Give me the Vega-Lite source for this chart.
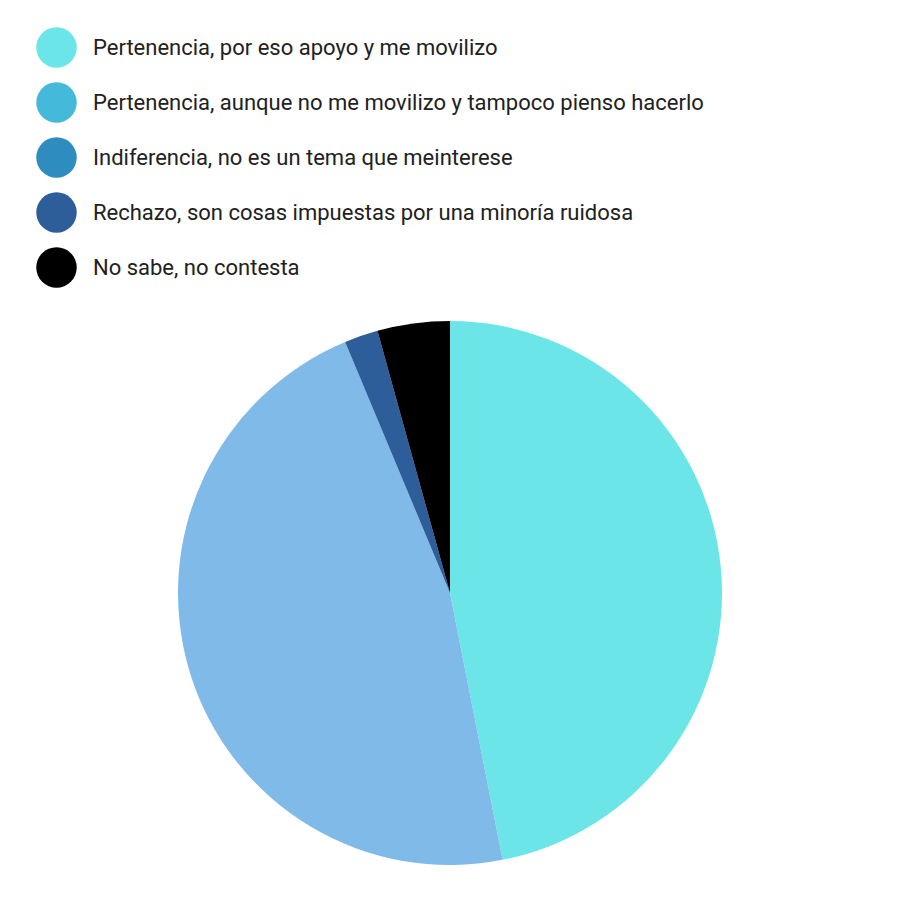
{
  "$schema": "https://vega.github.io/schema/vega-lite/v6.json",
  "autosize": "none",
  "width": 544,
  "height": 544,
  "padding": {"left": 178, "top": 321, "right": 178, "bottom": 35},
  "background": "white",
  "data": {
    "values": [
      {"respuesta": "Pertenencia, por eso apoyo y me movilizo", "porcentaje": 46.9, "orden": 1},
      {"respuesta": "Pertenencia, aunque no me movilizo y tampoco pienso hacerlo", "porcentaje": 46.8, "orden": 2},
      {"respuesta": "Indiferencia, no es un tema que meinterese", "porcentaje": 0, "orden": 3},
      {"respuesta": "Rechazo, son cosas impuestas por una minoría ruidosa", "porcentaje": 2.0, "orden": 4},
      {"respuesta": "No sabe, no contesta", "porcentaje": 4.3, "orden": 5}
    ]
  },
  "mark": {"type": "arc", "outerRadius": 272, "stroke": null},
  "encoding": {
    "theta": {"field": "porcentaje", "type": "quantitative", "stack": true},
    "order": {"field": "orden", "type": "quantitative"},
    "color": {
      "condition": {"test": "datum.orden == 2", "value": "#80bae8"},
      "field": "respuesta",
      "type": "nominal",
      "scale": {
        "domain": [
          "Pertenencia, por eso apoyo y me movilizo",
          "Pertenencia, aunque no me movilizo y tampoco pienso hacerlo",
          "Indiferencia, no es un tema que meinterese",
          "Rechazo, son cosas impuestas por una minoría ruidosa",
          "No sabe, no contesta"
        ],
        "range": ["#6ce5e8", "#45b9d9", "#2e8cbf", "#2e5e9a", "#000000"]
      },
      "legend": {
        "title": null,
        "orient": "none",
        "legendX": -142,
        "legendY": -294,
        "direction": "vertical",
        "symbolType": "circle",
        "symbolSize": 1640,
        "symbolStrokeWidth": 0,
        "symbolOpacity": 1,
        "rowPadding": 14,
        "labelOffset": 16,
        "labelFont": "Roboto",
        "labelFontSize": 22,
        "labelColor": "#212121",
        "labelLimit": 0
      }
    }
  }
}
